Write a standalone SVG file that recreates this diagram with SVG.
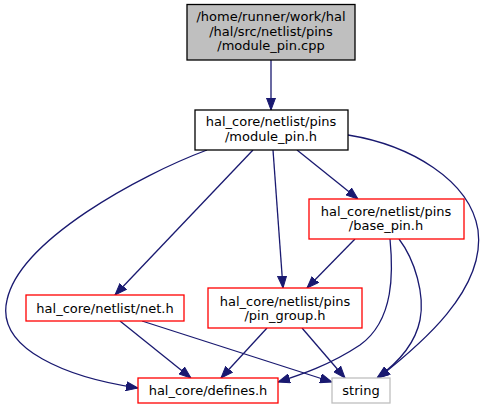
<svg xmlns="http://www.w3.org/2000/svg" width="488" height="409" viewBox="0 0 488 409">
<style>
text{font-family:"DejaVu Sans","Liberation Sans",sans-serif;font-size:13px;fill:#000;text-anchor:middle}
.e{fill:none;stroke:#191970;stroke-width:1.3}
.blk{fill:#fff;stroke:#000;stroke-width:1.3}
.red{fill:#fff;stroke:#ff0000;stroke-width:1.3}
.gry{fill:#fff;stroke:#bfbfbf;stroke-width:1.3}
</style>
<defs>
<marker id="a" markerUnits="userSpaceOnUse" viewBox="0 -5 12 10" refX="12" refY="0" markerWidth="12" markerHeight="10" orient="auto">
<polygon points="0,-4.5 12,0 0,4.5" fill="#191970" stroke="#191970" stroke-width="1"/>
</marker>
</defs>
<rect width="488" height="409" fill="#fff"/>
<g id="edges">
<path class="e" marker-end="url(#a)" d="M271,60 L271,110"/>
<path class="e" marker-end="url(#a)" d="M297,150 L358,199"/>
<path class="e" marker-end="url(#a)" d="M273,150 L283,288"/>
<path class="e" marker-end="url(#a)" d="M253,150 L115,295"/>
<path class="e" marker-end="url(#a)" d="M207,150 C140,175 20,240 7,300 C-5,350 70,378 138,388"/>
<path class="e" marker-end="url(#a)" d="M348,135 C410,145 470,180 478,230 C486,290 420,345 378,378"/>
<path class="e" marker-end="url(#a)" d="M355,239 L307,288"/>
<path class="e" marker-end="url(#a)" d="M390,239 C393,270 395,320 360,345 C330,365 300,375 278,382"/>
<path class="e" marker-end="url(#a)" d="M399,239 C415,260 425,295 420,320 C415,345 395,365 377,378"/>
<path class="e" marker-end="url(#a)" d="M267,328 L221,378"/>
<path class="e" marker-end="url(#a)" d="M302,328 L345,378"/>
<path class="e" marker-end="url(#a)" d="M120,321 L191,378"/>
<path class="e" marker-end="url(#a)" d="M142,321 L332,382"/>
</g>
<g id="node1">
<rect x="187" y="4.5" width="168" height="55.5" fill="#bfbfbf" stroke="#000" stroke-width="1.3"/>
<text x="271" y="21">/home/runner/work/hal</text>
<text x="271" y="35.5">/hal/src/netlist/pins</text>
<text x="271" y="50">/module_pin.cpp</text>
</g>
<g id="node2">
<rect class="blk" x="195" y="110" width="153" height="40"/>
<text x="271" y="126">hal_core/netlist/pins</text>
<text x="271" y="140.5">/module_pin.h</text>
</g>
<g id="node3">
<rect class="red" x="309" y="199" width="155" height="40"/>
<text x="386" y="215.5">hal_core/netlist/pins</text>
<text x="386" y="230">/base_pin.h</text>
</g>
<g id="node4">
<rect class="red" x="26" y="295" width="158" height="26"/>
<text x="105" y="312.5">hal_core/netlist/net.h</text>
</g>
<g id="node5">
<rect class="red" x="208" y="288" width="154" height="40"/>
<text x="285" y="305.5">hal_core/netlist/pins</text>
<text x="285" y="320">/pin_group.h</text>
</g>
<g id="node6">
<rect class="red" x="138" y="378" width="140" height="25"/>
<text x="208" y="395">hal_core/defines.h</text>
</g>
<g id="node7">
<rect class="gry" x="332" y="378" width="58" height="25"/>
<text x="361" y="395">string</text>
</g>
</svg>
